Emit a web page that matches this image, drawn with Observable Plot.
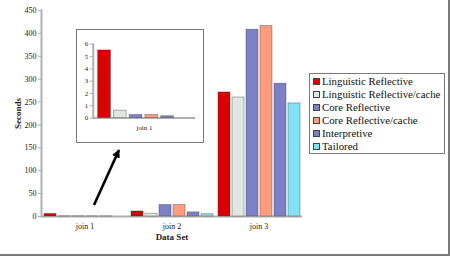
<!DOCTYPE html>
<html><head><meta charset="utf-8">
<script src="https://cdn.jsdelivr.net/npm/d3@7"></script>
<script src="https://cdn.jsdelivr.net/npm/@observablehq/plot@0.6"></script>
<style>
body{margin:0;background:#fff;font-family:'Liberation Serif','DejaVu Serif',serif;}
#wrap{position:relative;width:450px;height:259px;overflow:hidden;}
#frame{position:absolute;left:0;top:0;width:450px;height:256px;box-sizing:border-box;border-right:2px solid #7a7a7a;border-bottom:2px solid #7a7a7a;pointer-events:none;}
#inset{position:absolute;left:76px;top:29px;width:128px;height:114px;box-sizing:border-box;border:1px solid #7a7a7a;background:#fff;}
#inset svg{position:absolute;left:-1px;top:-1px;}
#legend{position:absolute;left:309px;top:73px;width:136px;height:81px;box-sizing:border-box;border:1px solid #7a7a7a;background:#fff;padding:1px 0 0 3px;font-family:'Liberation Serif','DejaVu Serif',serif;font-size:10.8px;line-height:13px;color:#111;}
#legend .it{display:flex;align-items:center;white-space:nowrap;}
#legend .sw{width:5px;height:5px;border:1px solid #444;margin-right:2px;flex:none;}
#arrow{position:absolute;left:0;top:0;}
#main{position:absolute;left:0;top:0;}
</style></head>
<body>
<div id="wrap">
  <div id="main"></div>
  <div id="inset"></div>
  <div id="legend"></div>
  <svg id="arrow" width="450" height="259"><defs><marker id="ah" viewBox="0 0 10 10" refX="9" refY="5" markerWidth="3.2" markerHeight="3.2" orient="auto"><path d="M0,0L10,5L0,10z" fill="#000"/></marker></defs><line x1="94" y1="205" x2="119" y2="150" stroke="#000" stroke-width="2.6" marker-end="url(#ah)"/></svg>
  <div id="frame"></div>
</div>
<script>
const joins = ["join 1", "join 2", "join 3"];
const series = ["Linguistic Reflective", "Linguistic Reflective/cache", "Core Reflective", "Core Reflective/cache", "Interpretive", "Tailored"];
const join1Values = [5.5, 0.6, 0.25, 0.25, 0.15, 0];
const join2Values = [11, 6, 25, 25, 9, 5];
const join3Values = [271, 260, 408, 416, 290, 247];
const colors = ["#dc0000", "#dfe7e0", "#7c80c6", "#ff9c7e", "#7c80c6", "#80e2f7"];
const yTicks = [0, 50, 100, 150, 200, 250, 300, 350, 400, 450];
const insetTicks = [0, 1, 2, 3, 4, 5, 6];

const valuesByJoin = [join1Values, join2Values, join3Values];
const data = [];
joins.forEach((j, i) => series.forEach((s, k) => data.push({join: j, series: s, value: valuesByJoin[i][k]})));
const data1 = data.filter(d => d.join === "join 1");

const axisGrey = "#b0b0b0";
const serif = "'Liberation Serif', 'DejaVu Serif', serif";

const main = Plot.plot({
  width: 450, height: 259,
  marginLeft: 40, marginRight: 147, marginTop: 10, marginBottom: 43,
  style: {fontFamily: serif, fontSize: "8px", background: "transparent", color: "#222"},
  fx: {domain: joins, padding: 0},
  x: {domain: series, paddingInner: 0.16, paddingOuter: 0.145, axis: null},
  y: {domain: [0, 450]},
  color: {domain: series, range: colors},
  marks: [
    Plot.ruleY([0], {stroke: axisGrey, strokeWidth: 2}),
    Plot.frame({anchor: "left", facetAnchor: "left", stroke: axisGrey, strokeWidth: 2}),
    Plot.barY(data, {fx: "join", x: "series", y: "value", fill: "series", stroke: "#333", strokeOpacity: 0.45, strokeWidth: 0.8}),
    Plot.axisY({ticks: yTicks, tickSize: 3, tickPadding: 2, stroke: axisGrey, label: "Seconds", labelAnchor: "center", labelArrow: "none", labelOffset: 27, fontSize: 8}),
    Plot.axisFx({anchor: "bottom", tickSize: 0, tickPadding: 7, label: "Data Set", labelAnchor: "center", labelArrow: "none", labelOffset: 23})
  ]
});
main.querySelectorAll("[aria-label='y-axis label'], [aria-label='fx-axis label']").forEach(e => {e.style.fontWeight = "bold"; e.style.fontSize = "9px";});
document.getElementById("main").appendChild(main);

const inset = Plot.plot({
  width: 128, height: 114,
  marginLeft: 17, marginRight: 7, marginTop: 15, marginBottom: 24,
  style: {fontFamily: serif, fontSize: "7px", background: "transparent", color: "#222"},
  fx: {domain: ["join 1"], padding: 0},
  x: {domain: series, paddingInner: 0.157, paddingOuter: 0.27, axis: null},
  y: {domain: [0, 6]},
  color: {domain: series, range: colors},
  marks: [
    Plot.ruleY([0], {stroke: axisGrey, strokeWidth: 2}),
    Plot.frame({anchor: "left", stroke: axisGrey, strokeWidth: 2}),
    Plot.barY(data1, {fx: "join", x: "series", y: "value", fill: "series", stroke: "#333", strokeOpacity: 0.45, strokeWidth: 0.8}),
    Plot.axisY({ticks: insetTicks, tickFormat: "d", tickSize: 3, tickPadding: 2, stroke: axisGrey, label: null}),
    Plot.axisFx({anchor: "bottom", tickSize: 0, tickPadding: 7, label: null})
  ]
});
document.getElementById("inset").appendChild(inset);

const legend = document.getElementById("legend");
series.forEach((s, i) => {
  const it = document.createElement("div");
  it.className = "it";
  const sw = document.createElement("span");
  sw.className = "sw";
  sw.style.background = colors[i];
  it.appendChild(sw);
  it.appendChild(document.createTextNode(s));
  legend.appendChild(it);
});
</script>
</body></html>
